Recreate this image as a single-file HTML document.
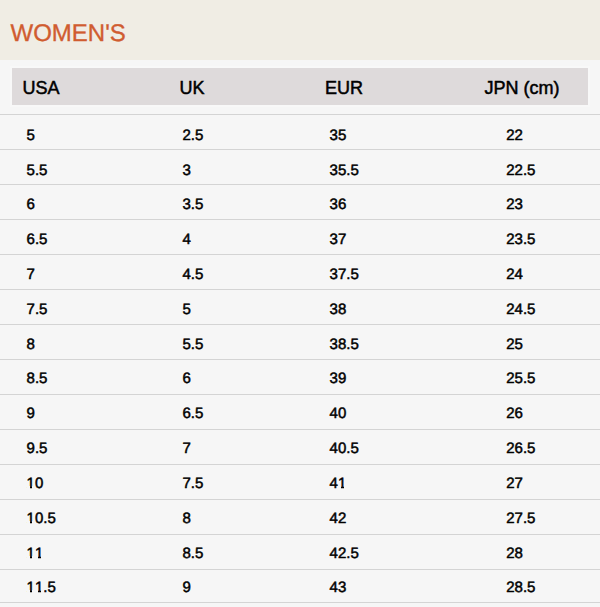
<!DOCTYPE html><html><head><meta charset='utf-8'><title>Women's Size Chart</title><style>
html,body{margin:0;padding:0;}
body{width:600px;height:607px;overflow:hidden;position:relative;font-kerning:none;background:#f6f6f6;font-family:"Liberation Sans",sans-serif;color:#000;}
.top{position:absolute;left:0;top:0;width:600px;height:60px;background:#f0ede4;}
h1{position:absolute;margin:0;left:10.5px;top:21.8px;font-size:24px;line-height:1;font-weight:normal;color:#d05c30;-webkit-text-stroke:0.35px #d05c30;white-space:nowrap;text-rendering:geometricPrecision;}
.thead{position:absolute;left:10px;top:66px;width:576px;height:37px;background:#dedadb;border:2px solid #f8f8f8;}
.thead span{position:absolute;top:10.599999999999994px;font-size:18px;line-height:1;-webkit-text-stroke:0.5px #000;white-space:nowrap;text-rendering:auto;}
.ln{position:absolute;left:0;width:600px;height:1px;background:#d4d4d4;}
.row{position:absolute;left:0;width:600px;height:20px;}
.cv{position:absolute;background:#f6f6f6;}
.row span.c{position:absolute;top:0;font-size:15px;line-height:1;-webkit-text-stroke:0.5px #000;white-space:nowrap;text-rendering:geometricPrecision;}
</style></head><body>
<div class='top'><h1>WOMEN'S</h1></div>
<div class='thead'><span style='left:10.600000000000001px'>USA</span><span style='left:167.6px'>UK</span><span style='left:313.0px'>EUR</span><span style='left:472.5px'>JPN (cm)</span></div>
<div class='ln' style='top:114px'></div>
<div class='ln' style='top:149px'></div>
<div class='ln' style='top:184px'></div>
<div class='ln' style='top:219px'></div>
<div class='ln' style='top:254px'></div>
<div class='ln' style='top:289px'></div>
<div class='ln' style='top:324px'></div>
<div class='ln' style='top:359px'></div>
<div class='ln' style='top:394px'></div>
<div class='ln' style='top:429px'></div>
<div class='ln' style='top:464px'></div>
<div class='ln' style='top:499px'></div>
<div class='ln' style='top:534px'></div>
<div class='ln' style='top:569px'></div>
<div class='ln' style='top:602px'></div>
<div class='row' style='top:128.00px'><span class='c' style='left:26.6px'>5</span><span class='c' style='left:182.45px'>2.5</span><span class='c' style='left:329.6px'>35</span><span class='c' style='left:506.25px'>22</span></div>
<div class='row' style='top:163.00px'><span class='c' style='left:26.6px'>5.5</span><span class='c' style='left:182.45px'>3</span><span class='c' style='left:329.6px'>35.5</span><span class='c' style='left:506.25px'>22.5</span></div>
<div class='row' style='top:197.00px'><span class='c' style='left:26.6px'>6</span><span class='c' style='left:182.45px'>3.5</span><span class='c' style='left:329.6px'>36</span><span class='c' style='left:506.25px'>23</span></div>
<div class='row' style='top:232.00px'><span class='c' style='left:26.6px'>6.5</span><span class='c' style='left:182.45px'>4</span><span class='c' style='left:329.6px'>37</span><span class='c' style='left:506.25px'>23.5</span></div>
<div class='row' style='top:267.00px'><span class='c' style='left:26.6px'>7</span><span class='c' style='left:182.45px'>4.5</span><span class='c' style='left:329.6px'>37.5</span><span class='c' style='left:506.25px'>24</span></div>
<div class='row' style='top:302.00px'><span class='c' style='left:26.6px'>7.5</span><span class='c' style='left:182.45px'>5</span><span class='c' style='left:329.6px'>38</span><span class='c' style='left:506.25px'>24.5</span></div>
<div class='row' style='top:337.00px'><span class='c' style='left:26.6px'>8</span><span class='c' style='left:182.45px'>5.5</span><span class='c' style='left:329.6px'>38.5</span><span class='c' style='left:506.25px'>25</span></div>
<div class='row' style='top:371.00px'><span class='c' style='left:26.6px'>8.5</span><span class='c' style='left:182.45px'>6</span><span class='c' style='left:329.6px'>39</span><span class='c' style='left:506.25px'>25.5</span></div>
<div class='row' style='top:406.00px'><span class='c' style='left:26.6px'>9</span><span class='c' style='left:182.45px'>6.5</span><span class='c' style='left:329.6px'>40</span><span class='c' style='left:506.25px'>26</span></div>
<div class='row' style='top:441.00px'><span class='c' style='left:26.6px'>9.5</span><span class='c' style='left:182.45px'>7</span><span class='c' style='left:329.6px'>40.5</span><span class='c' style='left:506.25px'>26.5</span></div>
<div class='row' style='top:476.00px'><span class='c' style='left:26.6px'>10</span><span class='c' style='left:182.45px'>7.5</span><span class='c' style='left:329.6px'>41</span><span class='c' style='left:506.25px'>27</span></div>
<div class='row' style='top:511.00px'><span class='c' style='left:26.6px'>10.5</span><span class='c' style='left:182.45px'>8</span><span class='c' style='left:329.6px'>42</span><span class='c' style='left:506.25px'>27.5</span></div>
<div class='row' style='top:546.00px'><span class='c' style='left:26.6px'>11</span><span class='c' style='left:182.45px'>8.5</span><span class='c' style='left:329.6px'>42.5</span><span class='c' style='left:506.25px'>28</span></div>
<div class='row' style='top:580.00px'><span class='c' style='left:26.6px'>11.5</span><span class='c' style='left:182.45px'>9</span><span class='c' style='left:329.6px'>43</span><span class='c' style='left:506.25px'>28.5</span></div>
<i class='cv' style='left:27px;top:486px;width:3px;height:3px'></i>
<i class='cv' style='left:32px;top:486px;width:3px;height:3px'></i>
<i class='cv' style='left:338px;top:486px;width:3px;height:3px'></i>
<i class='cv' style='left:344px;top:486px;width:3px;height:3px'></i>
<i class='cv' style='left:27px;top:521px;width:3px;height:3px'></i>
<i class='cv' style='left:32px;top:521px;width:3px;height:3px'></i>
<i class='cv' style='left:27px;top:556px;width:3px;height:3px'></i>
<i class='cv' style='left:32px;top:556px;width:3px;height:3px'></i>
<i class='cv' style='left:35px;top:556px;width:3px;height:3px'></i>
<i class='cv' style='left:41px;top:556px;width:3px;height:3px'></i>
<i class='cv' style='left:27px;top:590px;width:3px;height:3px'></i>
<i class='cv' style='left:32px;top:590px;width:3px;height:3px'></i>
<i class='cv' style='left:35px;top:590px;width:3px;height:3px'></i>
<i class='cv' style='left:41px;top:590px;width:3px;height:3px'></i>
</body></html>
